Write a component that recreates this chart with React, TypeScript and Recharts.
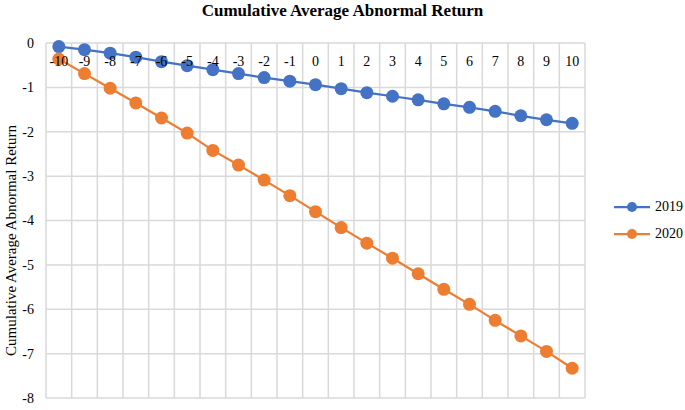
import React from "react";
import { LineChart, Line, XAxis, YAxis, CartesianGrid, Legend } from "recharts";

const days = ["-10","-9","-8","-7","-6","-5","-4","-3","-2","-1","0","1","2","3","4","5","6","7","8","9","10"];
const car2019 = [-0.08,-0.15,-0.23,-0.32,-0.42,-0.51,-0.6,-0.69,-0.78,-0.86,-0.94,-1.03,-1.12,-1.2,-1.28,-1.37,-1.45,-1.54,-1.64,-1.73,-1.81];
const car2020 = [-0.36,-0.69,-1.02,-1.35,-1.69,-2.03,-2.42,-2.75,-3.09,-3.44,-3.8,-4.16,-4.51,-4.85,-5.2,-5.55,-5.89,-6.25,-6.6,-6.95,-7.33];
const yTicks = [0,-1,-2,-3,-4,-5,-6,-7,-8];
const seriesNames = ["2019", "2020"];
const colors = ["#4472c4", "#ed7d31"];
const yLabel = "Cumulative Average Abnormal Return";

const data = days.map((d, i) => ({ day: d, s2019: car2019[i], s2020: car2020[i] }));

const FONT = "'Liberation Serif', 'Times New Roman', serif";
const TOP = 43;
const LEGEND_W = 73;

const XTick = (props: any) => {
  const { x, payload } = props;
  return (
    <text x={x} y={TOP + 23} textAnchor="middle" fontFamily={FONT} fontSize={14} fill="#000">
      {payload.value}
    </text>
  );
};

const YLabel = (props: any) => {
  const { viewBox } = props;
  const cx = 16;
  const cy = viewBox.y + viewBox.height / 2 + 20;
  return (
    <text x={cx} y={cy} transform={`rotate(-90 ${cx} ${cy})`} textAnchor="middle" fontFamily={FONT} fontSize={15} fill="#000">
      {yLabel}
    </text>
  );
};

const LegendContent = () => (
  <div style={{ fontFamily: FONT, fontSize: 14, color: "#000" }}>
    {seriesNames.map((n, i) => (
      <div key={n} style={{ display: "flex", alignItems: "center", height: 27 }}>
        <svg width={40} height={14}>
          <line x1={2} y1={7} x2={38} y2={7} stroke={colors[i]} strokeWidth={2.25} />
          <circle cx={20} cy={7} r={5} fill={colors[i]} />
        </svg>
        <span style={{ marginLeft: 3 }}>{n}</span>
      </div>
    ))}
  </div>
);

export default function App() {
  return (
    <div style={{ position: "absolute", left: 0, top: 0, width: 685, height: 410, background: "#fff" }}>
      <div style={{ position: "absolute", left: 0, top: 1, width: 685, textAlign: "center", fontFamily: FONT, fontWeight: "bold", fontSize: 17 }}>
        Cumulative Average Abnormal Return
      </div>
      <LineChart width={685} height={410} data={data} margin={{ top: TOP - 1, right: 100 - LEGEND_W, bottom: 12, left: 0 }}>
        <CartesianGrid
          stroke="#d9d9d9"
          strokeWidth={1.5}
          verticalCoordinatesGenerator={({ offset }: any) =>
            Array.from({ length: days.length + 1 }, (_, i) => offset.left + (i * offset.width) / days.length)
          }
        />
        <XAxis
          dataKey="day"
          orientation="top"
          height={1}
          axisLine={false}
          tickLine={false}
          interval={0}
          tick={XTick}
          padding={{ left: 539 / 42, right: 539 / 42 }}
        />
        <YAxis
          domain={[-8, 0]}
          ticks={yTicks}
          width={46}
          axisLine={false}
          tickLine={false}
          tickSize={0}
          tickMargin={12}
          tick={{ fontFamily: FONT, fontSize: 14, fill: "#000" }}
          label={<YLabel />}
        />
        <Legend
          layout="horizontal"
          verticalAlign="middle"
          align="right"
          content={<LegendContent />}
          wrapperStyle={{ left: 612, top: 193, width: LEGEND_W }}
        />
        <Line dataKey="s2019" name="2019" stroke={colors[0]} strokeWidth={2.25} dot={{ r: 6.5, fill: colors[0], stroke: colors[0], strokeWidth: 0 }} isAnimationActive={false} />
        <Line dataKey="s2020" name="2020" stroke={colors[1]} strokeWidth={2.25} dot={{ r: 6.5, fill: colors[1], stroke: colors[1], strokeWidth: 0 }} isAnimationActive={false} />
      </LineChart>
    </div>
  );
}
